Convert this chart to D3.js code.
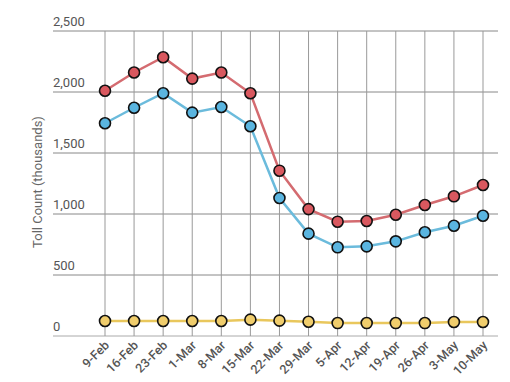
<!DOCTYPE html>
<html><head><meta charset="utf-8">
<script src="https://cdn.jsdelivr.net/npm/d3@7/dist/d3.min.js"></script>
<style>body{margin:0;background:#fff}text{font-family:Roboto,"Noto Sans",sans-serif}</style>
</head><body><svg id="c" width="510" height="382"></svg>
<script>
const weeks = ["9-Feb","16-Feb","23-Feb","1-Mar","8-Mar","15-Mar","22-Mar","29-Mar","5-Apr","12-Apr","19-Apr","26-Apr","3-May","10-May"];
const redSeries = [2010,2160,2285,2110,2160,1990,1355,1040,937,943,994,1074,1145,1238];
const blueSeries = [1744,1871,1990,1831,1877,1719,1131,839,727,735,776,850,904,986];
const yellowSeries = [123,123,123,123,123,134,126,117,106,106,106,106,115,115];
const yTicks = [0,500,1000,1500,2000,2500];

const svg = d3.select("#c");
const x = d3.scalePoint().domain(weeks).range([105,483]);
const y = d3.scaleLinear().domain([0,2500]).range([336,31]);
const gridL = 53, gridR = 498;

yTicks.forEach(t=>{
  svg.append("line").attr("x1",gridL).attr("x2",gridR).attr("y1",y(t)).attr("y2",y(t))
    .attr("stroke",t===0?"#aaa":"#888").attr("stroke-width",1);
  svg.append("text").attr("x",gridL).attr("y",y(t)-5).attr("font-size",13)
    .attr("fill","#555").text(d3.format(",")(t));
});
weeks.forEach(w=>{
  svg.append("line").attr("x1",x(w)).attr("x2",x(w)).attr("y1",y(2500)).attr("y2",y(0))
    .attr("stroke","#999").attr("stroke-width",1);
  svg.append("text").attr("transform",`translate(${x(w)+5},${y(0)+10}) rotate(-45)`)
    .attr("text-anchor","end").attr("font-size",12.5).attr("font-weight",500).attr("fill","#555").text(w);
});
svg.append("text").attr("transform","translate(42,182) rotate(-90)").attr("text-anchor","middle")
  .attr("font-size",13).attr("fill","#666").text("Toll Count (thousands)");

const line = d3.line().x((d,i)=>x(weeks[i])).y(d=>y(d));
const series = [
  {v:yellowSeries, line:"#e9c75c", fill:"#f0cd6c"},
  {v:blueSeries, line:"#6bbbdc", fill:"#5ab5e0"},
  {v:redSeries, line:"#d46b70", fill:"#d9585f"}
];
series.forEach(s=>{
  svg.append("path").attr("d",line(s.v)).attr("fill","none").attr("stroke",s.line).attr("stroke-width",2.5);
  svg.selectAll(null).data(s.v).enter().append("circle")
    .attr("cx",(d,i)=>x(weeks[i])).attr("cy",d=>y(d)).attr("r",5.5)
    .attr("fill",s.fill).attr("stroke","#111").attr("stroke-width",1.6);
});
</script></body></html>
